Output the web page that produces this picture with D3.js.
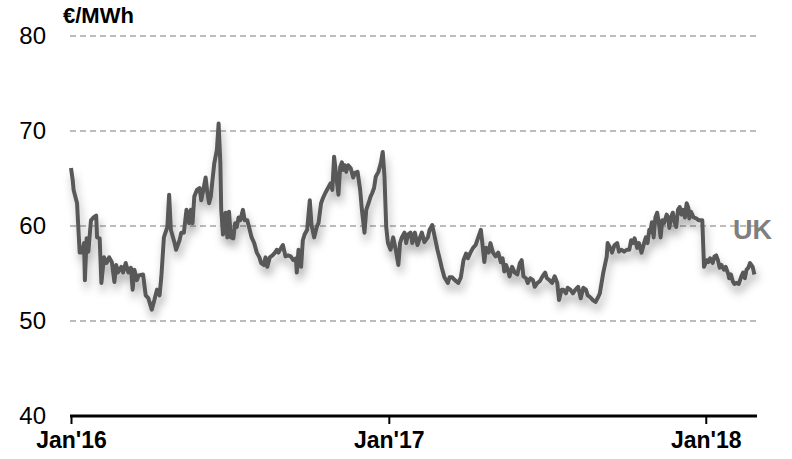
<!DOCTYPE html>
<html>
<head>
<meta charset="utf-8">
<script src="https://cdn.jsdelivr.net/npm/d3@7"></script>
<style>
  html, body { margin: 0; padding: 0; background: #fff; }
  svg { display: block; font-family: Arial, "Liberation Sans", sans-serif; }
</style>
</head>
<body>
<svg id="chart" width="792" height="459"></svg>
<script>
// ---- Data (days since 1 Jan 2016, price in €/MWh) ----
const startDate = "2016-01-01";
const endDate = "2018-03-01";
const dayOffsets = [
  0,2,3,7,8,10,13,15,16,18,20,23,26,29,30,33,35,38,41,44,47,50,52,54,58,60,63,66,69,71,73,76,78,83,86,89,93,96,99,102,104,107,111,113,115,119,
  121,125,127,130,133,136,138,140,142,145,148,150,152,155,157,159,161,165,168,170,172,173,175,176,178,180,182,184,187,189,191,193,195,198,200,203,205,208,211,214,217,219,222,224,226,229,232,235,237,
  239,242,244,247,250,253,256,259,260,262,265,267,269,272,275,277,280,283,285,288,290,293,296,299,301,303,306,308,310,312,313,315,317,319,322,325,327,330,333,335,338,340,343,345,347,349,351,354,357,359,
  361,363,365,368,371,374,377,379,381,384,386,388,391,393,396,399,402,404,407,411,413,416,419,422,425,427,430,434,436,439,442,446,449,452,455,457,460,463,466,469,472,473,476,478,481,483,486,489,492,495,497,
  499,501,503,505,508,511,514,517,519,521,524,526,529,532,534,537,540,543,546,548,551,554,557,560,562,565,567,570,572,575,578,581,584,587,590,593,595,598,601,604,607,609,
  613,617,618,621,623,626,629,631,634,637,640,643,645,647,649,652,654,657,660,662,664,666,667,669,671,673,675,677,679,681,683,686,688,689,691,693,695,697,699,701,703,705,707,709,711,712,714,717,720,723,726,727,
  729,732,734,736,739,741,743,745,747,749,752,754,757,758,760,762,764,766,769,772,774,776,778,780,782,785,787
];
const prices = [
  66.1,64.8,63.8,62.4,60.6,57.2,57.2,58.2,54.3,58.7,57.3,60.6,60.9,61.1,58.8,58.7,54.0,56.7,56.1,56.7,56.2,54.1,55.9,55.1,55.7,55.1,56.1,55.1,55.6,53.3,55.4,54.3,54.8,54.9,52.7,52.4,51.2,52.2,53.3,52.7,54.6,58.8,59.9,63.3,59.6,58.3,
  57.5,58.5,59.3,59.3,61.7,60.3,61.7,60.3,63.1,63.8,64.0,62.7,63.6,65.1,63.5,62.4,63.1,66.6,68.0,70.8,66.6,61.7,59.1,60.6,61.4,58.8,61.5,58.8,58.7,60.3,59.9,60.9,60.6,61.7,60.6,60.6,59.9,58.8,58.2,57.2,56.7,56.1,55.9,56.7,55.7,56.7,56.9,57.2,57.5,
  57.2,57.7,58.0,56.8,56.9,56.8,56.4,56.6,55.1,57.5,55.7,58.5,59.1,59.6,62.7,60.1,58.8,59.9,60.3,62.4,62.9,63.5,64.0,64.5,63.8,67.3,64.8,63.3,66.2,66.7,65.9,66.4,65.7,66.4,66.1,65.1,65.6,65.7,63.8,61.7,59.3,61.7,62.5,63.1,63.5,64.0,65.2,65.7,66.7,67.8,
  65.2,59.9,58.2,57.5,58.8,57.5,55.9,58.2,58.8,59.3,58.2,59.1,59.3,58.2,59.3,58.0,58.8,59.3,58.3,58.8,59.6,60.1,58.8,57.5,56.4,55.6,54.6,54.0,54.6,54.6,54.3,54.0,54.6,56.4,57.1,56.6,57.2,57.7,58.0,58.8,59.6,58.8,56.2,57.7,57.2,58.2,57.2,56.8,57.2,56.2,56.6,
  55.2,55.9,55.4,54.7,55.7,55.1,54.9,56.1,56.4,54.7,54.5,54.0,54.5,54.3,53.6,54.0,54.2,54.7,55.1,54.5,54.3,54.0,54.7,54.0,52.2,53.3,53.3,52.9,53.5,53.3,52.9,53.3,53.6,52.4,53.5,53.3,52.7,52.5,52.2,52.0,52.5,52.9,
  55.1,56.8,58.2,57.7,57.2,58.0,58.2,57.3,57.5,57.3,57.5,57.5,58.5,58.2,58.7,57.7,58.2,57.2,58.2,58.8,58.2,59.6,59.3,60.4,58.8,60.9,61.4,60.3,58.8,60.6,60.3,61.2,60.8,59.8,60.9,61.4,60.4,59.9,61.7,62.0,61.2,61.7,60.9,62.4,61.9,60.8,61.5,60.9,60.8,60.6,60.6,60.6,
  55.7,56.4,56.2,56.6,56.1,56.8,56.9,56.4,55.6,55.9,55.4,55.7,54.9,54.5,54.9,54.2,53.9,54.0,53.9,54.7,55.1,54.5,55.4,55.6,56.1,55.7,54.9
];
const yTicks = [40, 50, 60, 70, 80];
const gridValues = [50, 60, 70, 80];
const xTickDates = ["2016-01-01", "2017-01-01", "2018-01-01"];
const xTickLabels = ["Jan'16", "Jan'17", "Jan'18"];
const unitLabel = "€/MWh";
const seriesName = "UK";

// ---- Build ----
const parse = d3.utcParse("%Y-%m-%d");
const t0 = parse(startDate);
const data = dayOffsets.map((d, i) => ({ date: d3.utcDay.offset(t0, d), value: prices[i] }));

const svg = d3.select("#chart");
const x = d3.scaleUtc().domain([t0, parse(endDate)]).range([71, 757]);
const y = d3.scaleLinear().domain([40, 80]).range([416, 36]);

const defs = svg.append("defs");
const f = defs.append("filter").attr("id", "shadow")
  .attr("x", "-5%").attr("y", "-10%").attr("width", "110%").attr("height", "140%");
f.append("feDropShadow").attr("dx", 2).attr("dy", 7).attr("stdDeviation", 4)
  .attr("flood-color", "#000").attr("flood-opacity", 0.3);

// gridlines
svg.append("g").selectAll("line").data(gridValues).join("line")
  .attr("x1", 70).attr("x2", 757)
  .attr("y1", d => y(d)).attr("y2", d => y(d))
  .attr("stroke", "#a6a6a6").attr("stroke-width", 1.3)
  .attr("stroke-dasharray", "6,4");

// y axis labels
const yAxis = d3.axisLeft(y).tickValues(yTicks).tickSize(0).tickPadding(0).tickFormat(d3.format("d"));
const gy = svg.append("g").attr("transform", "translate(46,0)").call(yAxis);
gy.select(".domain").remove();
gy.selectAll("text").attr("font-size", 24).attr("fill", "#000")
  .attr("font-family", "Arial, 'Liberation Sans', sans-serif");

// x axis
const xAxis = d3.axisBottom(x).tickValues(xTickDates.map(parse))
  .tickFormat((d, i) => xTickLabels[i]).tickSize(8).tickPadding(8).tickSizeOuter(0);
const gx = svg.append("g").attr("transform", "translate(0,416)").call(xAxis);
gx.select(".domain").attr("d", "M70,0H757").attr("stroke", "#000").attr("stroke-width", 3);
gx.selectAll(".tick line").attr("stroke", "#000").attr("stroke-width", 2);
gx.selectAll("text").attr("font-size", 23).attr("font-weight", "bold").attr("fill", "#000")
  .attr("font-family", "Arial, 'Liberation Sans', sans-serif");

// unit label
svg.append("text").attr("x", 63).attr("y", 23).text(unitLabel)
  .attr("font-size", 22).attr("font-weight", "bold").attr("fill", "#000");

// line
const line = d3.line().x(d => x(d.date)).y(d => y(d.value));
svg.append("path").datum(data)
  .attr("d", line)
  .attr("fill", "none")
  .attr("stroke", "#595959")
  .attr("stroke-width", 4)
  .attr("stroke-linejoin", "round")
  .attr("filter", "url(#shadow)");

// series label
svg.append("text").attr("x", 733).attr("y", 239).text(seriesName)
  .attr("font-size", 27).attr("font-weight", "bold").attr("fill", "#7f7f7f");
</script>
</body>
</html>
